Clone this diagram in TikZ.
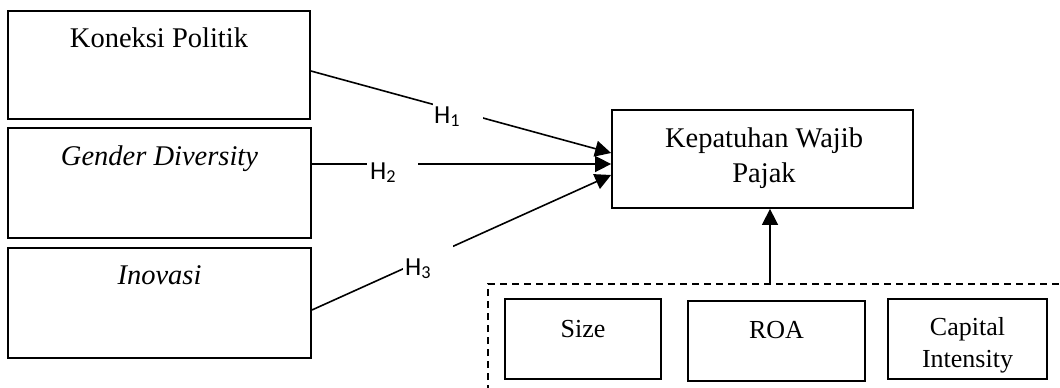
\documentclass[tikz,border=0pt]{standalone}
\usepackage{fontspec}
\setmainfont{Liberation Serif}
\newfontfamily\hfont{Carlito}
\usetikzlibrary{arrows.meta}
\begin{document}
\begin{tikzpicture}[x=1pt,y=-1pt,
  box/.style={draw, line width=1.8pt, rectangle, inner sep=0pt},
  sbox/.style={draw, line width=1.4pt, rectangle, inner sep=0pt, minimum height=80pt},
  txt/.style={font=\fontsize{28.5}{35}\selectfont, anchor=base, inner sep=0pt, align=center},
  stxt/.style={font=\fontsize{26}{32}\selectfont, anchor=base, inner sep=0pt, align=center},
  conn/.style={line width=1.6pt},
  arr/.style={conn, -{Triangle[length=16pt,width=16pt]}},
  hbox/.style={fill=white, inner sep=0pt, minimum width=50pt},
  hlab/.style={font=\hfont\fontsize{26}{30}\selectfont, anchor=base west, inner sep=0pt},
  dashbox/.style={line width=1.4pt, dash pattern=on 7pt off 5pt}
]
\useasboundingbox (0,0) rectangle (1060,388);
% left boxes
\node[box, minimum width=302pt, minimum height=108pt] (kp) at (159,65) {};
\node[txt] (kpt) at (159,47) {Koneksi Politik};
\node[box, minimum width=303pt, minimum height=110pt] (gd) at (159.5,183) {};
\node[txt] (gdt) at (159.5,165) {\itshape Gender Diversity};
\node[box, minimum width=303pt, minimum height=110pt] (in) at (159.5,303) {};
\node[txt] (intx) at (159.5,284) {\itshape Inovasi};
% dependent
\node[box, minimum width=301pt, minimum height=98pt] (kep) at (762.5,159) {};
\node[txt] (kept) at (764,182) {Kepatuhan Wajib\\Pajak};
% controls
\draw[dashbox] (488,392) -- (488,284) -- (1064,284);
\coordinate (ctl) at (770,284);
\node[sbox, minimum width=156pt] (size) at (583,339) {};
\node[stxt] (sizet) at (583,337) {Size};
\node[sbox, minimum width=177pt] (roa) at (776.5,341) {};
\node[stxt] (roat) at (776.5,338) {ROA};
\node[sbox, minimum width=159pt] (cap) at (967.5,339) {};
\node[stxt] (capt) at (967.5,367) {Capital\\Intensity};
% connectors
\draw[arr] ([yshift=-6pt]kp.east) -- ([yshift=6pt]kep.west);
\draw[arr] ([yshift=19pt]gd.east) -- ([yshift=-5pt]kep.west);
\draw[arr] ([yshift=-7pt]in.east) -- ([yshift=-16pt]kep.west);
\draw[arr] (ctl) -- (ctl |- kep.south);
% hypothesis labels (white text boxes over the lines)
\node[hbox, minimum height=38pt] (h1b) at (458,121) {};
\node[hlab] (h1) at (434,123) {H\textsubscript{1}};
\node[hbox, minimum width=51pt, minimum height=32pt] (h2b) at (392.5,174) {};
\node[hlab] (h2) at (370,179) {H\textsubscript{2}};
\node[hbox, minimum height=42pt] (h3b) at (428,265) {};
\node[hlab] (h3) at (405,275) {H\textsubscript{3}};
\end{tikzpicture}
\end{document}
